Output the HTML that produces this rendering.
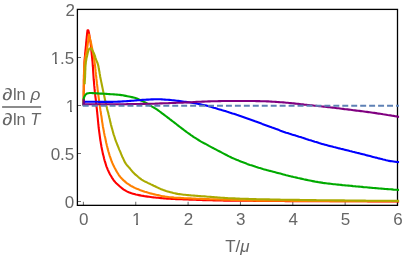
<!DOCTYPE html>
<html><head><meta charset="utf-8"><title>plot</title>
<style>
html,body{margin:0;padding:0;background:#fff;}
svg{display:block;}
text{font-family:"Liberation Sans",sans-serif;fill:#666;}
.i{font-style:italic;}
</style></head><body>
<svg width="403" height="256" viewBox="0 0 403 256">
<rect x="0" y="0" width="403" height="256" fill="#fff"/>

<defs><clipPath id="c"><rect x="77.40" y="9.40" width="321.70" height="195.95"/></clipPath><filter id="nf" x="0" y="0" width="403" height="256" filterUnits="userSpaceOnUse"><feOffset dx="0" dy="0"/></filter></defs>
<g stroke="#444" stroke-width="0.8">
<line x1="77.40" y1="201.50" x2="81.00" y2="201.50"/>
<line x1="77.40" y1="153.50" x2="81.00" y2="153.50"/>
<line x1="77.40" y1="105.50" x2="81.00" y2="105.50"/>
<line x1="77.40" y1="57.50" x2="81.00" y2="57.50"/>
<line x1="77.40" y1="9.50" x2="81.00" y2="9.50"/>
<line x1="83.40" y1="205.35" x2="83.40" y2="201.75"/>
<line x1="135.75" y1="205.35" x2="135.75" y2="201.75"/>
<line x1="188.10" y1="205.35" x2="188.10" y2="201.75"/>
<line x1="240.45" y1="205.35" x2="240.45" y2="201.75"/>
<line x1="292.80" y1="205.35" x2="292.80" y2="201.75"/>
<line x1="345.15" y1="205.35" x2="345.15" y2="201.75"/>
<line x1="397.50" y1="205.35" x2="397.50" y2="201.75"/>
</g>
<rect x="77.40" y="9.40" width="320.10" height="195.95" fill="none" stroke="#000" stroke-width="1.3"/>
<g fill="none" stroke-linejoin="round" stroke-linecap="butt" clip-path="url(#c)">
<polyline points="83.6,105.5 83.6,104.0 83.6,102.5 83.6,101.0 83.6,99.5 83.7,98.0 83.7,96.5 83.7,95.0 83.7,93.4 83.7,91.9 83.8,90.4 83.8,88.9 83.8,87.4 83.8,85.9 83.9,84.4 83.9,82.9 83.9,81.4 83.9,79.9 84.0,78.4 84.0,76.9 84.0,75.4 84.1,73.9 84.1,72.3 84.2,70.8 84.2,69.3 84.3,67.8 84.3,66.3 84.4,64.8 84.4,63.3 84.5,61.8 84.6,60.3 84.7,58.8 84.8,57.3 85.0,55.8 85.1,54.3 85.2,52.8 85.4,51.3 85.5,49.8 85.7,48.3 85.8,46.8 86.0,45.3 86.1,43.8 86.2,42.3 86.4,40.8 86.5,39.3 86.7,37.8 86.8,36.3 87.0,34.8 87.1,33.3 87.3,31.8 87.5,30.3 88.3,30.3 88.7,31.8 89.0,33.2 89.3,34.7 89.5,36.2 89.8,37.7 90.0,39.2 90.2,40.6 90.5,42.1 90.7,43.6 90.8,45.1 91.0,46.6 91.1,48.1 91.3,49.6 91.4,51.1 91.6,52.6 91.7,54.0 91.9,55.5 92.0,57.0 92.2,58.5 92.3,60.0 92.5,61.5 92.6,63.0 92.7,64.5 92.8,66.0 93.0,67.5 93.0,69.0 93.1,70.5 93.2,72.0 93.3,73.5 93.4,75.0 93.5,76.5 93.6,78.0 93.7,79.5 93.9,81.0 94.0,82.5 94.1,84.0 94.2,85.4 94.4,86.9 94.5,88.4 94.7,89.9 94.8,91.4 95.0,92.9 95.2,94.4 95.3,95.9 95.5,97.4 95.7,98.9 95.9,100.4 96.0,101.8 96.2,103.3 96.4,104.8 96.5,106.3 96.7,107.8 96.9,109.3 97.0,110.8 97.2,112.3 97.3,113.8 97.5,115.3 97.6,116.8 97.8,118.3 97.9,119.8 98.0,121.2 98.2,122.7 98.3,124.2 98.5,125.7 98.6,127.2 98.8,128.7 99.0,130.2 99.2,131.7 99.4,133.2 99.6,134.7 99.8,136.1 100.0,137.6 100.2,139.1 100.4,140.6 100.7,142.1 100.9,143.6 101.2,145.0 101.4,146.5 101.7,148.0 102.0,149.5 102.3,150.9 102.6,152.4 102.9,153.9 103.3,155.3 103.7,156.8 104.0,158.2 104.4,159.7 104.8,161.1 105.3,162.6 105.7,164.0 106.1,165.4 106.6,166.8 107.2,168.2 107.7,169.6 108.4,171.0 109.0,172.3 109.7,173.7 110.4,175.0 111.2,176.3 111.9,177.6 112.8,178.9 113.6,180.1 114.5,181.3 115.5,182.4 116.6,183.5 117.7,184.5 118.8,185.5 119.9,186.5 121.1,187.5 122.2,188.4 123.4,189.3 124.7,190.1 126.0,190.9 127.3,191.6 128.7,192.3 130.1,192.8 131.5,193.3 132.9,193.7 134.3,194.1 135.8,194.5 137.3,194.8 138.8,195.1 140.2,195.4 141.7,195.7 143.2,195.9 144.7,196.2 146.1,196.4 147.6,196.6 149.1,196.8 150.6,197.0 152.1,197.2 153.6,197.4 155.1,197.5 156.6,197.7 158.1,197.8 159.6,198.0 161.1,198.1 162.5,198.3 164.0,198.4 165.5,198.5 167.0,198.6 168.5,198.7 170.0,198.8 171.5,198.9 173.0,199.0 174.5,199.0 176.0,199.1 177.5,199.2 179.0,199.2 180.5,199.3 182.0,199.3 183.5,199.4 185.0,199.4 186.5,199.5 188.0,199.5 189.5,199.6 191.0,199.6 192.5,199.7 194.0,199.8 195.5,199.8 197.0,199.9 198.5,199.9 200.0,200.0 201.5,200.0 203.0,200.1 204.5,200.1 206.0,200.2 207.5,200.2 209.0,200.3 210.5,200.3 212.0,200.3 213.5,200.4 215.0,200.4 216.5,200.4 218.0,200.5 219.5,200.5 221.0,200.5 222.5,200.5 224.0,200.6 225.5,200.6 227.0,200.6 228.5,200.6 230.0,200.6 231.5,200.7 233.0,200.7 234.5,200.7 236.0,200.7 237.5,200.7 239.0,200.7 240.5,200.7 242.0,200.8 243.5,200.8 245.0,200.8 246.5,200.8 248.0,200.8 249.5,200.8 251.0,200.8 252.5,200.8 254.0,200.9 255.5,200.9 257.0,200.9 258.5,200.9 260.0,200.9 261.5,200.9 263.0,200.9 264.5,200.9 266.0,200.9 267.5,200.9 269.0,201.0 270.5,201.0 272.0,201.0 273.5,201.0 275.0,201.0 276.5,201.0 278.0,201.0 279.5,201.0 281.0,201.0 282.5,201.0 284.0,201.0 285.5,201.1 287.0,201.1 288.5,201.1 290.0,201.1 291.5,201.1 293.0,201.1 294.5,201.1 296.0,201.1 297.5,201.1 299.0,201.1 300.5,201.1 302.0,201.1 303.5,201.1 305.0,201.2 306.5,201.2 308.0,201.2 309.5,201.2 311.0,201.2 312.5,201.2 314.0,201.2 315.5,201.2 317.0,201.2 318.5,201.2 320.0,201.2 321.5,201.2 323.0,201.2 324.5,201.2 326.0,201.2 327.5,201.2 329.0,201.2 330.5,201.3 332.0,201.3 333.5,201.3 335.0,201.3 336.5,201.3 338.0,201.3 339.5,201.3 341.0,201.3 342.5,201.3 344.0,201.3 345.5,201.3 347.0,201.3 348.5,201.3 350.0,201.3 351.5,201.3 353.0,201.3 354.5,201.3 356.0,201.3 357.5,201.3 359.0,201.3 360.5,201.3 362.0,201.3 363.5,201.3 365.0,201.3 366.5,201.3 368.0,201.4 369.5,201.4 371.0,201.4 372.5,201.4 374.0,201.4 375.5,201.4 377.0,201.4 378.5,201.4 380.0,201.4 381.5,201.4 383.0,201.4 384.5,201.4 386.0,201.4 387.5,201.4 389.0,201.4 390.5,201.4 392.0,201.4 393.5,201.4 395.0,201.4 396.5,201.4 398.0,201.4 399.5,201.4" stroke="#ff0000" stroke-width="2.1"/>
<polyline points="83.7,105.5 83.7,104.0 83.7,102.5 83.7,100.9 83.7,99.4 83.7,97.9 83.7,96.4 83.7,94.9 83.7,93.4 83.7,91.8 83.7,90.3 83.8,88.8 83.8,87.3 83.8,85.8 83.8,84.2 83.8,82.7 83.8,81.2 83.8,79.7 83.9,78.2 83.9,76.6 83.9,75.1 84.0,73.6 84.0,72.1 84.1,70.6 84.1,69.0 84.2,67.5 84.3,66.0 84.4,64.5 84.5,63.0 84.6,61.5 84.8,60.0 85.1,58.5 85.3,57.0 85.6,55.5 86.0,54.0 86.3,52.5 86.6,51.0 86.9,49.6 87.2,48.1 87.4,46.6 87.6,45.1 87.8,43.5 88.0,42.0 88.2,40.5 88.4,39.0 88.6,37.5 88.7,36.0 88.9,34.5 89.3,36.0 89.7,37.4 90.0,38.9 90.4,40.3 90.8,41.8 91.1,43.2 91.4,44.7 91.7,46.2 92.0,47.7 92.3,49.1 92.6,50.6 92.9,52.1 93.2,53.6 93.5,55.0 93.7,56.5 94.0,58.0 94.2,59.5 94.4,61.0 94.6,62.5 94.8,63.9 95.0,65.4 95.2,66.9 95.3,68.4 95.5,69.9 95.6,71.4 95.8,72.9 95.9,74.4 96.1,75.9 96.3,77.4 96.4,78.9 96.6,80.4 96.8,81.9 96.9,83.4 97.1,84.9 97.3,86.4 97.5,87.9 97.6,89.3 97.8,90.8 98.0,92.3 98.2,93.8 98.4,95.3 98.6,96.8 98.8,98.3 99.0,99.8 99.1,101.3 99.4,102.8 99.6,104.3 99.8,105.7 100.0,107.2 100.2,108.7 100.4,110.2 100.7,111.7 100.9,113.2 101.1,114.7 101.4,116.1 101.6,117.6 101.8,119.1 102.0,120.6 102.2,122.1 102.5,123.6 102.7,125.1 102.9,126.5 103.2,128.0 103.5,129.5 103.8,131.0 104.0,132.4 104.3,133.9 104.6,135.4 105.0,136.9 105.3,138.3 105.6,139.8 105.9,141.3 106.2,142.7 106.6,144.2 106.9,145.7 107.3,147.1 107.6,148.6 108.0,150.0 108.4,151.5 108.9,152.9 109.3,154.4 109.7,155.8 110.2,157.2 110.7,158.7 111.2,160.1 111.7,161.5 112.3,162.9 112.9,164.2 113.5,165.6 114.2,166.9 114.9,168.3 115.6,169.6 116.3,170.9 117.1,172.2 117.9,173.5 118.7,174.8 119.5,176.0 120.5,177.2 121.5,178.3 122.5,179.4 123.6,180.4 124.8,181.4 125.9,182.4 127.1,183.3 128.4,184.1 129.6,185.0 130.9,185.8 132.2,186.5 133.5,187.2 134.9,187.9 136.2,188.5 137.6,189.1 139.0,189.6 140.4,190.2 141.9,190.7 143.3,191.2 144.7,191.7 146.1,192.1 147.6,192.6 149.0,193.0 150.5,193.4 151.9,193.7 153.4,194.1 154.8,194.4 156.3,194.8 157.8,195.1 159.3,195.4 160.7,195.8 162.2,196.1 163.7,196.3 165.2,196.6 166.7,196.8 168.1,197.0 169.6,197.2 171.1,197.3 172.6,197.4 174.1,197.6 175.6,197.7 177.1,197.8 178.6,197.9 180.1,197.9 181.6,198.0 183.1,198.1 184.6,198.2 186.1,198.2 187.6,198.3 189.1,198.4 190.6,198.4 192.1,198.5 193.6,198.6 195.1,198.6 196.6,198.7 198.1,198.8 199.6,198.8 201.1,198.9 202.6,198.9 204.1,199.0 205.6,199.0 207.1,199.1 208.7,199.1 210.2,199.2 211.7,199.2 213.2,199.3 214.7,199.3 216.2,199.4 217.7,199.4 219.2,199.5 220.7,199.5 222.2,199.6 223.7,199.6 225.2,199.7 226.7,199.7 228.2,199.8 229.7,199.8 231.2,199.9 232.7,199.9 234.2,200.0 235.7,200.0 237.2,200.1 238.7,200.1 240.2,200.2 241.7,200.2 243.2,200.3 244.7,200.3 246.2,200.3 247.7,200.4 249.2,200.4 250.7,200.4 252.2,200.5 253.7,200.5 255.2,200.5 256.7,200.6 258.2,200.6 259.7,200.6 261.2,200.6 262.7,200.6 264.2,200.6 265.7,200.7 267.2,200.7 268.7,200.7 270.2,200.7 271.8,200.7 273.3,200.7 274.8,200.7 276.3,200.8 277.8,200.8 279.3,200.8 280.8,200.8 282.3,200.8 283.8,200.8 285.3,200.8 286.8,200.8 288.3,200.8 289.8,200.8 291.3,200.9 292.8,200.9 294.3,200.9 295.8,200.9 297.3,200.9 298.8,200.9 300.3,200.9 301.8,200.9 303.3,200.9 304.8,200.9 306.3,200.9 307.8,200.9 309.3,201.0 310.8,201.0 312.3,201.0 313.8,201.0 315.3,201.0 316.8,201.0 318.3,201.0 319.8,201.0 321.3,201.0 322.9,201.0 324.4,201.0 325.9,201.0 327.4,201.0 328.9,201.0 330.4,201.1 331.9,201.1 333.4,201.1 334.9,201.1 336.4,201.1 337.9,201.1 339.4,201.1 340.9,201.1 342.4,201.1 343.9,201.1 345.4,201.1 346.9,201.1 348.4,201.1 349.9,201.1 351.4,201.1 352.9,201.1 354.4,201.2 355.9,201.2 357.4,201.2 358.9,201.2 360.4,201.2 361.9,201.2 363.4,201.2 364.9,201.2 366.4,201.2 367.9,201.2 369.4,201.2 370.9,201.2 372.4,201.2 374.0,201.2 375.5,201.2 377.0,201.2 378.5,201.2 380.0,201.2 381.5,201.3 383.0,201.3 384.5,201.3 386.0,201.3 387.5,201.3 389.0,201.3 390.5,201.3 392.0,201.3 393.5,201.3 395.0,201.3 396.5,201.3 398.0,201.3 399.5,201.3" stroke="#ff8000" stroke-width="2.1"/>
<polyline points="84.7,84.3 84.7,82.8 84.8,81.3 84.9,79.8 85.0,78.3 85.1,76.8 85.1,75.3 85.2,73.8 85.2,72.3 85.3,70.8 85.4,69.3 85.4,67.8 85.5,66.3 85.6,64.8 85.8,63.3 85.9,61.8 86.2,60.4 86.4,58.9 86.7,57.4 87.1,55.9 87.4,54.5 87.7,53.0 88.1,51.6 88.6,50.1 89.3,48.8 90.5,48.2 91.6,49.1 92.4,50.5 93.1,51.8 93.8,53.1 94.4,54.5 94.9,55.9 95.3,57.3 95.8,58.8 96.3,60.2 96.9,61.6 97.5,63.0 97.9,64.4 98.3,65.8 98.6,67.3 98.8,68.8 99.1,70.2 99.4,71.7 99.6,73.2 99.9,74.7 100.1,76.2 100.4,77.7 100.7,79.1 101.0,80.6 101.3,82.1 101.6,83.5 101.9,85.0 102.2,86.5 102.5,87.9 102.8,89.4 103.1,90.9 103.4,92.4 103.7,93.8 104.1,95.3 104.4,96.8 104.7,98.2 105.0,99.7 105.3,101.1 105.7,102.6 106.0,104.1 106.3,105.5 106.7,107.0 107.0,108.4 107.4,109.9 107.8,111.4 108.2,112.8 108.5,114.3 108.9,115.7 109.2,117.2 109.6,118.6 109.9,120.1 110.2,121.6 110.6,123.0 110.9,124.5 111.3,125.9 111.7,127.4 112.1,128.8 112.5,130.3 112.9,131.7 113.3,133.2 113.7,134.6 114.2,136.0 114.7,137.5 115.1,138.9 115.6,140.3 116.1,141.7 116.7,143.1 117.2,144.5 117.8,145.9 118.4,147.3 118.9,148.7 119.5,150.1 120.1,151.4 120.7,152.8 121.2,154.2 121.8,155.6 122.4,157.0 123.1,158.3 123.7,159.7 124.3,161.1 125.0,162.4 125.8,163.6 126.7,164.8 127.7,166.0 128.7,167.1 129.7,168.2 130.6,169.4 131.6,170.6 132.5,171.7 133.6,172.8 134.6,173.9 135.8,174.9 136.9,175.8 138.0,176.8 139.2,177.8 140.4,178.7 141.6,179.6 142.9,180.3 144.2,181.1 145.5,181.8 146.9,182.4 148.2,183.1 149.6,183.7 150.9,184.4 152.3,185.0 153.7,185.7 155.0,186.3 156.4,187.0 157.7,187.6 159.1,188.3 160.5,188.9 161.9,189.4 163.3,190.0 164.7,190.5 166.1,191.0 167.5,191.4 168.9,191.8 170.4,192.2 171.8,192.6 173.3,193.0 174.8,193.3 176.2,193.6 177.7,193.9 179.2,194.1 180.7,194.3 182.2,194.5 183.7,194.7 185.1,194.8 186.6,195.0 188.1,195.1 189.6,195.2 191.1,195.4 192.6,195.5 194.1,195.6 195.6,195.8 197.1,195.9 198.6,196.0 200.1,196.1 201.6,196.2 203.1,196.3 204.6,196.4 206.1,196.5 207.6,196.7 209.1,196.8 210.6,196.9 212.1,197.0 213.6,197.1 215.1,197.2 216.6,197.3 218.0,197.5 219.5,197.6 221.0,197.7 222.5,197.8 224.0,197.9 225.5,198.0 227.0,198.1 228.5,198.2 230.0,198.2 231.5,198.3 233.0,198.4 234.5,198.4 236.0,198.5 237.5,198.6 239.0,198.6 240.5,198.7 242.0,198.7 243.5,198.8 245.0,198.8 246.5,198.9 248.0,198.9 249.5,199.0 251.0,199.0 252.5,199.1 254.0,199.1 255.5,199.1 257.0,199.2 258.5,199.2 260.0,199.3 261.5,199.3 263.0,199.3 264.5,199.3 266.0,199.4 267.5,199.4 269.0,199.4 270.5,199.5 272.0,199.5 273.5,199.5 275.0,199.6 276.5,199.6 278.0,199.6 279.5,199.6 281.0,199.7 282.5,199.7 284.0,199.7 285.5,199.7 287.0,199.8 288.5,199.8 290.0,199.8 291.5,199.8 293.0,199.8 294.5,199.9 296.0,199.9 297.5,199.9 299.0,199.9 300.5,200.0 302.0,200.0 303.5,200.0 305.0,200.0 306.5,200.0 308.0,200.1 309.5,200.1 311.0,200.1 312.5,200.1 314.0,200.1 315.5,200.1 317.0,200.2 318.5,200.2 320.0,200.2 321.5,200.2 323.0,200.2 324.5,200.2 326.0,200.3 327.5,200.3 329.0,200.3 330.5,200.3 332.0,200.3 333.5,200.3 335.0,200.4 336.5,200.4 338.0,200.4 339.5,200.4 341.0,200.4 342.5,200.4 344.0,200.4 345.5,200.5 347.0,200.5 348.5,200.5 350.0,200.5 351.5,200.5 353.0,200.5 354.5,200.5 356.0,200.6 357.5,200.6 359.0,200.6 360.5,200.6 362.0,200.6 363.5,200.6 365.0,200.6 366.5,200.7 368.0,200.7 369.5,200.7 371.0,200.7 372.5,200.7 374.0,200.7 375.5,200.7 377.0,200.7 378.5,200.8 380.0,200.8 381.5,200.8 383.0,200.8 384.5,200.8 386.0,200.8 387.5,200.8 389.0,200.8 390.5,200.8 392.0,200.9 393.5,200.9 395.0,200.9 396.5,200.9 398.0,200.9 399.5,200.9" stroke="#aaaa00" stroke-width="2.1"/>
<polyline points="83.7,105.5 83.7,98.6 84.2,97.1 84.8,95.8 85.7,94.5 86.8,93.6 88.3,93.2 89.8,93.0 91.3,93.0 92.8,93.1 94.3,93.2 95.8,93.3 97.3,93.4 98.8,93.5 100.4,93.6 101.9,93.6 103.4,93.7 104.9,93.8 106.4,93.9 107.9,94.0 109.4,94.1 110.9,94.2 112.4,94.3 113.9,94.4 115.4,94.5 116.9,94.6 118.4,94.7 119.9,94.9 121.4,95.1 122.9,95.3 124.3,95.6 125.8,95.9 127.3,96.2 128.8,96.5 130.3,96.8 131.7,97.1 133.2,97.4 134.7,97.8 136.1,98.2 137.5,98.8 138.9,99.4 140.2,100.0 141.6,100.7 143.0,101.3 144.3,102.0 145.7,102.7 147.0,103.4 148.3,104.2 149.5,105.0 150.8,105.8 152.1,106.6 153.4,107.3 154.7,108.1 156.0,108.9 157.2,109.7 158.5,110.6 159.7,111.5 160.9,112.4 162.1,113.3 163.3,114.2 164.5,115.1 165.7,116.0 166.9,116.9 168.1,117.8 169.3,118.7 170.5,119.7 171.7,120.6 172.9,121.5 174.1,122.4 175.3,123.3 176.5,124.3 177.6,125.2 178.8,126.1 180.0,127.0 181.2,127.9 182.4,128.8 183.6,129.7 184.8,130.7 186.1,131.6 187.3,132.5 188.5,133.3 189.7,134.2 190.9,135.1 192.2,135.9 193.4,136.8 194.7,137.6 196.0,138.4 197.2,139.2 198.5,140.0 199.8,140.8 201.1,141.6 202.4,142.3 203.7,143.0 205.1,143.7 206.4,144.4 207.7,145.1 209.0,145.9 210.4,146.6 211.7,147.3 213.0,148.0 214.3,148.7 215.7,149.4 217.0,150.1 218.3,150.8 219.7,151.5 221.0,152.2 222.3,152.9 223.7,153.6 225.0,154.3 226.4,155.0 227.7,155.7 229.1,156.4 230.4,157.0 231.8,157.7 233.1,158.3 234.5,158.9 235.9,159.5 237.3,160.1 238.7,160.6 240.1,161.2 241.5,161.8 242.9,162.3 244.3,162.8 245.7,163.3 247.1,163.9 248.5,164.4 250.0,164.9 251.4,165.3 252.8,165.8 254.3,166.3 255.7,166.8 257.1,167.2 258.6,167.7 260.0,168.1 261.4,168.5 262.9,169.0 264.3,169.4 265.8,169.8 267.2,170.2 268.7,170.6 270.2,170.9 271.6,171.3 273.1,171.7 274.5,172.1 276.0,172.5 277.4,172.9 278.9,173.2 280.4,173.6 281.8,174.0 283.3,174.4 284.7,174.8 286.2,175.2 287.6,175.5 289.1,175.9 290.6,176.3 292.0,176.6 293.5,177.0 295.0,177.3 296.4,177.6 297.9,178.0 299.4,178.3 300.8,178.6 302.3,178.9 303.8,179.3 305.3,179.6 306.7,179.9 308.2,180.2 309.7,180.5 311.2,180.8 312.6,181.1 314.1,181.4 315.6,181.7 317.1,181.9 318.6,182.2 320.0,182.4 321.5,182.6 323.0,182.9 324.5,183.1 326.0,183.3 327.5,183.5 329.0,183.6 330.5,183.8 332.0,184.0 333.5,184.2 335.0,184.3 336.5,184.5 338.0,184.6 339.5,184.8 341.0,184.9 342.5,185.1 344.0,185.2 345.5,185.4 347.0,185.5 348.5,185.6 350.0,185.8 351.5,185.9 353.0,186.1 354.5,186.2 356.0,186.4 357.5,186.5 359.0,186.6 360.5,186.8 362.0,186.9 363.5,187.1 365.0,187.2 366.5,187.3 368.0,187.5 369.5,187.6 371.0,187.7 372.5,187.9 374.0,188.0 375.5,188.1 377.0,188.2 378.5,188.4 380.0,188.5 381.5,188.6 383.0,188.7 384.5,188.9 386.0,189.0 387.5,189.1 389.0,189.2 390.5,189.3 392.0,189.4 393.5,189.6 395.0,189.7 396.5,189.8 398.0,189.9 399.5,190.0" stroke="#00aa00" stroke-width="2.1"/>
<polyline points="83.7,105.5 83.9,102.3 85.2,101.7 86.7,101.7 88.2,101.7 89.7,101.8 91.3,101.8 92.8,101.8 94.3,101.8 95.8,101.8 97.3,101.8 98.8,101.9 100.3,101.9 101.8,101.9 103.3,101.9 104.8,101.9 106.3,101.9 107.8,101.9 109.3,101.9 110.8,101.9 112.3,101.9 113.8,101.8 115.3,101.8 116.8,101.7 118.3,101.6 119.8,101.6 121.3,101.5 122.8,101.4 124.3,101.3 125.8,101.2 127.3,101.1 128.8,101.0 130.3,100.9 131.8,100.8 133.3,100.7 134.8,100.5 136.3,100.4 137.8,100.3 139.3,100.2 140.8,100.1 142.3,99.9 143.8,99.8 145.3,99.7 146.8,99.6 148.3,99.6 149.8,99.5 151.3,99.4 152.8,99.4 154.3,99.3 155.8,99.3 157.3,99.3 158.8,99.3 160.3,99.3 161.8,99.4 163.3,99.5 164.8,99.6 166.3,99.7 167.8,99.8 169.3,99.9 170.8,100.0 172.3,100.2 173.8,100.3 175.3,100.5 176.8,100.7 178.3,100.9 179.8,101.1 181.3,101.3 182.8,101.5 184.3,101.7 185.8,101.9 187.2,102.1 188.7,102.3 190.2,102.5 191.7,102.8 193.2,103.0 194.7,103.3 196.1,103.5 197.6,103.8 199.1,104.1 200.6,104.4 202.1,104.7 203.5,105.0 205.0,105.3 206.5,105.6 207.9,106.0 209.4,106.4 210.8,106.8 212.2,107.2 213.7,107.7 215.1,108.1 216.6,108.5 218.0,109.0 219.5,109.4 220.9,109.8 222.3,110.3 223.8,110.7 225.2,111.1 226.6,111.6 228.1,112.0 229.5,112.5 231.0,112.9 232.4,113.4 233.8,113.8 235.3,114.3 236.7,114.8 238.1,115.2 239.5,115.7 241.0,116.2 242.4,116.7 243.8,117.2 245.2,117.7 246.6,118.2 248.0,118.7 249.5,119.2 250.9,119.7 252.3,120.2 253.7,120.7 255.1,121.3 256.5,121.8 257.9,122.3 259.3,122.8 260.7,123.3 262.2,123.9 263.6,124.4 265.0,124.9 266.4,125.4 267.8,125.9 269.2,126.4 270.6,126.9 272.0,127.5 273.5,128.0 274.9,128.5 276.3,129.1 277.7,129.6 279.1,130.1 280.5,130.7 281.9,131.2 283.3,131.7 284.7,132.2 286.1,132.7 287.6,133.1 289.0,133.6 290.4,134.0 291.9,134.5 293.3,134.9 294.8,135.3 296.2,135.8 297.6,136.2 299.1,136.7 300.5,137.1 301.9,137.6 303.4,138.0 304.8,138.5 306.2,139.0 307.7,139.4 309.1,139.9 310.5,140.3 312.0,140.8 313.4,141.2 314.8,141.7 316.3,142.1 317.7,142.6 319.1,143.1 320.6,143.5 322.0,143.9 323.5,144.3 324.9,144.7 326.4,145.1 327.8,145.5 329.3,145.9 330.7,146.2 332.2,146.6 333.6,147.0 335.1,147.3 336.6,147.7 338.0,148.1 339.5,148.4 340.9,148.8 342.4,149.1 343.9,149.5 345.3,149.9 346.8,150.2 348.2,150.6 349.7,151.0 351.1,151.3 352.6,151.7 354.1,152.0 355.5,152.4 357.0,152.8 358.4,153.1 359.9,153.5 361.4,153.9 362.8,154.2 364.3,154.6 365.7,155.0 367.2,155.4 368.6,155.7 370.1,156.1 371.5,156.5 373.0,156.9 374.5,157.3 375.9,157.6 377.4,158.0 378.8,158.4 380.3,158.7 381.7,159.1 383.2,159.5 384.7,159.8 386.1,160.2 387.6,160.5 389.1,160.9 390.5,161.1 392.0,161.3 393.5,161.5 395.0,161.7 396.5,161.9 398.0,162.0 399.5,162.1" stroke="#0000ff" stroke-width="2.1"/>
<polyline points="83.7,99.2 83.7,104.4 85.2,104.3 86.7,104.3 88.2,104.3 89.7,104.3 91.2,104.3 92.7,104.3 94.2,104.3 95.7,104.3 97.2,104.3 98.7,104.3 100.2,104.3 101.7,104.3 103.2,104.3 104.7,104.3 106.2,104.3 107.7,104.3 109.2,104.3 110.7,104.3 112.2,104.3 113.7,104.3 115.2,104.3 116.7,104.3 118.2,104.3 119.7,104.2 121.2,104.2 122.7,104.2 124.2,104.2 125.7,104.2 127.2,104.1 128.7,104.1 130.2,104.1 131.7,104.1 133.2,104.0 134.7,104.0 136.2,104.0 137.7,104.0 139.3,104.0 140.8,103.9 142.3,103.9 143.8,103.9 145.3,103.9 146.8,103.9 148.3,103.8 149.8,103.8 151.3,103.8 152.8,103.7 154.3,103.7 155.8,103.6 157.3,103.6 158.8,103.5 160.3,103.4 161.8,103.4 163.3,103.3 164.8,103.3 166.3,103.2 167.8,103.2 169.3,103.1 170.8,103.0 172.3,103.0 173.8,102.9 175.3,102.9 176.8,102.8 178.3,102.8 179.8,102.7 181.3,102.7 182.8,102.6 184.3,102.5 185.8,102.5 187.3,102.4 188.8,102.4 190.3,102.3 191.8,102.2 193.3,102.1 194.8,102.0 196.3,101.9 197.8,101.8 199.3,101.7 200.8,101.7 202.3,101.6 203.8,101.6 205.3,101.5 206.8,101.5 208.3,101.4 209.8,101.4 211.3,101.3 212.8,101.3 214.3,101.2 215.8,101.2 217.3,101.2 218.8,101.1 220.3,101.1 221.8,101.0 223.3,101.0 224.8,101.0 226.3,101.0 227.8,101.0 229.3,101.0 230.8,101.0 232.3,101.0 233.8,101.0 235.3,101.0 236.8,101.0 238.3,101.0 239.8,101.0 241.3,101.0 242.8,101.0 244.3,101.0 245.8,101.0 247.3,101.0 248.8,101.0 250.3,101.0 251.8,101.0 253.3,101.0 254.8,101.0 256.3,101.1 257.8,101.1 259.3,101.1 260.8,101.2 262.3,101.2 263.8,101.3 265.3,101.3 266.8,101.4 268.3,101.4 269.8,101.5 271.3,101.6 272.8,101.7 274.3,101.8 275.8,101.9 277.3,102.0 278.8,102.1 280.3,102.2 281.8,102.3 283.3,102.4 284.8,102.5 286.3,102.7 287.8,102.8 289.3,103.0 290.8,103.1 292.3,103.3 293.8,103.4 295.3,103.6 296.8,103.8 298.2,103.9 299.7,104.1 301.2,104.3 302.7,104.4 304.2,104.6 305.7,104.7 307.2,104.9 308.7,105.0 310.2,105.2 311.7,105.3 313.2,105.5 314.7,105.7 316.2,105.8 317.7,106.0 319.2,106.1 320.6,106.3 322.1,106.5 323.6,106.6 325.1,106.8 326.6,107.0 328.1,107.1 329.6,107.3 331.1,107.5 332.6,107.6 334.1,107.8 335.6,108.0 337.1,108.2 338.5,108.3 340.0,108.5 341.5,108.7 343.0,108.9 344.5,109.1 346.0,109.2 347.5,109.4 349.0,109.6 350.5,109.8 352.0,110.0 353.4,110.2 354.9,110.4 356.4,110.6 357.9,110.8 359.4,110.9 360.9,111.1 362.4,111.3 363.9,111.5 365.4,111.7 366.9,111.9 368.3,112.1 369.8,112.3 371.3,112.5 372.8,112.7 374.3,112.9 375.8,113.1 377.3,113.4 378.7,113.6 380.2,113.8 381.7,114.0 383.2,114.3 384.7,114.5 386.2,114.7 387.6,115.0 389.1,115.2 390.6,115.4 392.1,115.7 393.6,115.9 395.1,116.2 396.5,116.4 398.0,116.7 399.5,117.0" stroke="#800080" stroke-width="2.1"/>
<line x1="82.75" y1="105.7" x2="399" y2="105.7" stroke="#5e81b5" stroke-width="1.9" stroke-dasharray="5.95 3"/>
</g>
<g filter="url(#nf)">
<text x="74.30" y="208.00" font-size="17" text-anchor="end">0</text>
<text x="74.30" y="160.00" font-size="17" text-anchor="end">0.5</text>
<text x="75.30" y="112.00" font-size="17" text-anchor="end">1</text>
<text x="74.30" y="64.00" font-size="17" text-anchor="end">1.5</text>
<text x="74.90" y="16.00" font-size="17" text-anchor="end">2</text>
<text x="83.80" y="224.9" font-size="17" text-anchor="middle">0</text>
<text x="136.75" y="224.9" font-size="17" text-anchor="middle">1</text>
<text x="188.50" y="224.9" font-size="17" text-anchor="middle">2</text>
<text x="240.85" y="224.9" font-size="17" text-anchor="middle">3</text>
<text x="293.20" y="224.9" font-size="17" text-anchor="middle">4</text>
<text x="345.55" y="224.9" font-size="17" text-anchor="middle">5</text>
<text x="397.90" y="224.9" font-size="17" text-anchor="middle">6</text>
<text x="237.4" y="251.8" font-size="17" text-anchor="middle">T/<tspan class="i">μ</tspan></text>
<text transform="translate(2.30,100.30) scale(1.25,1)" font-size="16.5">∂</text>
<text x="12.90" y="100.30" font-size="16.5">ln</text>
<text x="30.50" y="100.30" font-size="17.3" class="i">ρ</text>
<text transform="translate(2.30,125.30) scale(1.25,1)" font-size="16.5">∂</text>
<text x="12.90" y="125.30" font-size="16.5">ln</text>
<text x="30.30" y="125.30" font-size="16.5" class="i">T</text>
</g>
<rect x="132.5" y="222.5" width="3.5" height="3.0" fill="#fff"/>
<rect x="138.0" y="222.5" width="3.5" height="3.0" fill="#fff"/>
<rect x="66.5" y="109.5" width="3.5" height="3.0" fill="#fff"/>
<rect x="72.0" y="109.5" width="3.5" height="3.0" fill="#fff"/>
<rect x="51.5" y="61.5" width="3.5" height="3.0" fill="#fff"/>
<rect x="57.0" y="61.5" width="3.5" height="3.0" fill="#fff"/>
<line x1="2.1" y1="107.05" x2="41.1" y2="107.05" stroke="#666" stroke-width="1.5"/>
</svg></body></html>
